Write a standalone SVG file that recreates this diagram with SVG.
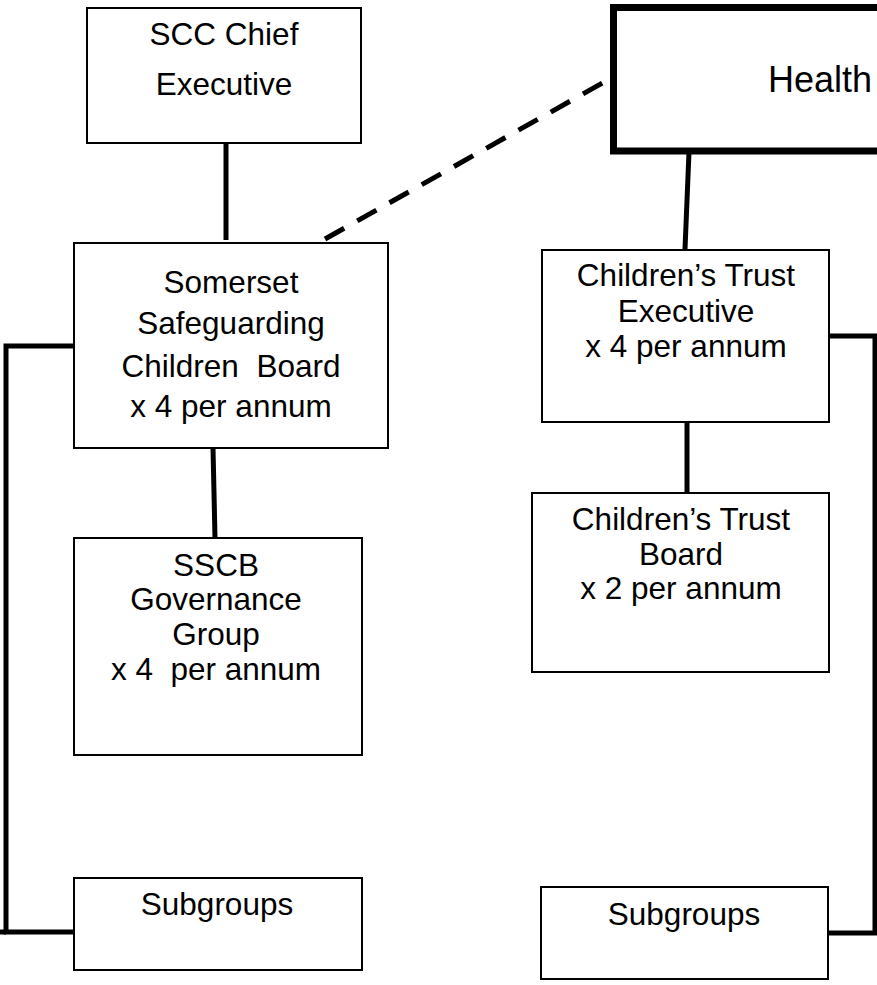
<svg xmlns="http://www.w3.org/2000/svg" width="877" height="985" viewBox="0 0 877 985">
<style>
.box{fill:#fff;stroke:#000;stroke-width:2}
.thick{fill:#fff;stroke:#000;stroke-width:7}
.t{font-family:"Liberation Sans",Arial,sans-serif;font-size:31.5px;fill:#000;text-anchor:middle}
.c{fill:none;stroke:#000;stroke-width:5}
.d{fill:none;stroke:#000;stroke-width:5;stroke-dasharray:22 15}
</style>
<rect width="877" height="985" fill="#fff"/>
<g id="connectors">
<line class="c" x1="226" y1="143" x2="226" y2="240"/>
<line class="d" x1="325" y1="239" x2="606" y2="81"/>
<line class="c" x1="689" y1="152" x2="685" y2="249"/>
<line class="c" x1="678" y1="146" x2="678" y2="150" stroke-width="3"/>
<line class="c" x1="213" y1="448" x2="215" y2="538"/>
<line class="c" x1="687" y1="422" x2="687" y2="493"/>
<polyline class="c" points="74,346 6,346 6,932 77,932"/>
<polyline class="c" points="829,336 875,336 875,933 828,933"/>
<line class="c" x1="0" y1="932" x2="6" y2="932"/>
</g>
<g id="scc-chief">
<rect class="box" x="87" y="8" width="274" height="135"/>
<text class="t" x="224" y="45">SCC Chief</text>
<text class="t" x="224" y="95">Executive</text>
</g>
<g id="health">
<rect class="thick" x="613.5" y="7.5" width="280" height="143.5"/>
<text class="t" x="768" y="92" style="text-anchor:start;font-size:36px">Health</text>
</g>
<g id="sscb">
<rect class="box" x="74" y="243" width="314" height="205"/>
<text class="t" x="231" y="293">Somerset</text>
<text class="t" x="231" y="334">Safeguarding</text>
<text class="t" x="231" y="377" xml:space="preserve">Children  Board</text>
<text class="t" x="231" y="417"> x 4 per annum</text>
</g>
<g id="ct-exec">
<rect class="box" x="542" y="250" width="287" height="172"/>
<text class="t" x="686" y="286">Children’s Trust</text>
<text class="t" x="686" y="322">Executive</text>
<text class="t" x="686" y="357">x 4 per annum</text>
</g>
<g id="sscb-gov">
<rect class="box" x="74" y="538" width="288" height="217"/>
<text class="t" x="216" y="576">SSCB</text>
<text class="t" x="216" y="610">Governance</text>
<text class="t" x="216" y="645">Group</text>
<text class="t" x="216" y="680" xml:space="preserve">x 4  per annum</text>
</g>
<g id="ct-board">
<rect class="box" x="532" y="493" width="297" height="179"/>
<text class="t" x="681" y="530">Children’s Trust</text>
<text class="t" x="681" y="565">Board</text>
<text class="t" x="681" y="599">x 2 per annum</text>
</g>
<g id="subgroups-left">
<rect class="box" x="74" y="878" width="288" height="92"/>
<text class="t" x="217" y="915">Subgroups</text>
</g>
<g id="subgroups-right">
<rect class="box" x="541" y="887" width="287" height="92"/>
<text class="t" x="684" y="925">Subgroups</text>
</g>
</svg>
